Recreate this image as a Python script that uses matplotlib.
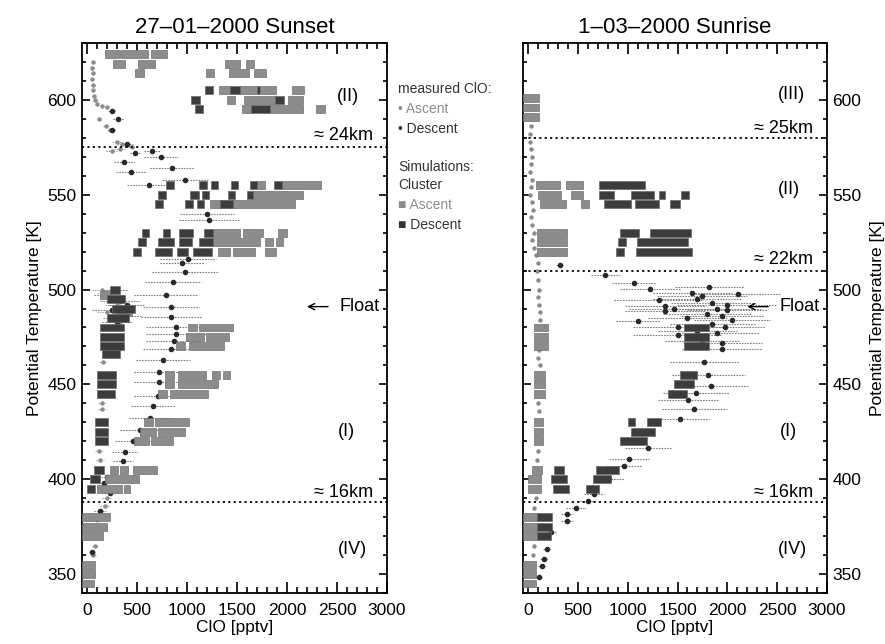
import matplotlib
matplotlib.use("Agg")
import matplotlib.pyplot as plt

plt.rcParams['font.family'] = ['Liberation Sans', 'DejaVu Sans']

# ---- sunset 27-01-2000, measured ClO (theta, ClO, error) ----
ss_desc_theta = [594, 590, 584, 577, 572, 573, 570, 567, 564, 562, 558, 555, 540, 536.5, 516, 514,
                 509.5, 504, 497, 491, 485.6, 480, 476.7, 473, 468.4, 462.8, 456.5, 451, 444, 438.6,
                 432.4, 426, 420.2, 414.4, 409.7, 500, 497, 494, 492, 489, 486, 483, 401, 398,
                 392.6, 383.3, 379, 375, 370, 361.4, 354.4]
ss_desc_clo = [247, 313, 247, 397, 480, 647, 740, 373, 853, 437, 980, 620, 1197, 1220, 1013, 947,
               980, 857, 790, 840, 840, 890, 890, 873, 837, 763, 723, 723, 713, 657,
               630, 530, 463, 380, 363, 280, 220, 330, 400, 250, 380, 300, 200, 170,
               230, 130, 97, 70, 60, 47, 30]
ss_desc_err = [40, 50, 30, 60, 50, 80, 170, 100, 220, 150, 230, 220, 270, 300, 280, 220,
               330, 280, 320, 280, 300, 300, 300, 280, 280, 270, 250, 250, 240, 220,
               210, 200, 180, 130, 100, 120, 150, 200, 180, 200, 160, 150, 60, 60,
               60, 60, 50, 40, 40, 30, 30]

ss_asc_theta = [620, 617, 614, 611, 608, 605, 602, 600, 598, 597, 596, 590, 586, 584, 578, 577,
                576, 575, 574, 573, 500, 498, 495, 492, 490, 488, 485, 483, 481, 462, 440,
                437, 415, 410, 390, 386, 380, 375, 370, 365, 360, 355, 350, 345]
ss_asc_clo = [60, 50, 55, 50, 60, 55, 65, 80, 100, 150, 200, 120, 190, 230, 300, 350,
              400, 450, 330, 250, 150, 200, 250, 300, 350, 200, 280, 330, 250, 160, 150,
              150, 120, 130, 200, 180, 150, 120, 100, 80, 60, 40, 30, 20]
ss_asc_err = [15, 15, 15, 15, 15, 15, 15, 20, 20, 20, 20, 20, 30, 30, 50, 50,
              60, 60, 60, 60, 100, 100, 120, 120, 120, 100, 120, 120, 100, 40, 40,
              40, 40, 40, 50, 50, 50, 40, 40, 30, 30, 20, 20, 20]

# ---- sunset simulations, cluster boxes (theta, ClO low, ClO high) ----
ss_asc_box_theta = [624, 624, 624, 619, 619, 619, 619, 614, 614, 614, 614,
                    605, 605, 605, 605, 600, 600, 600, 595, 595, 595,
                    555, 555, 550, 545, 530, 530, 530, 525, 525, 525, 520, 520, 520,
                    497, 488,
                    480, 480, 475, 475, 470, 470, 455, 455, 455, 455, 450, 450, 445, 445,
                    430, 430, 425, 425, 420, 420, 405, 405, 405, 400, 395, 395,
                    380, 375, 370, 355, 350, 345]
ss_asc_box_lo = [180, 337, 637, 263, 513, 1380, 1590, 480, 1190, 1423, 1670,
                 1323, 1530, 1737, 2047, 1397, 1573, 2013, 1553, 1830, 2290,
                 1697, 1947, 1663, 1230, 1263, 1563, 1913, 1263, 1780, 1890, 1313, 1463, 1780,
                 130, 300,
                 1010, 1123, 990, 1190, 893, 1023, 783, 910, 1250, 1357, 783, 910, 710, 833,
                 573, 677, 527, 710, 467, 643, 227, 327, 457, 183, 100, 367,
                 -50, -50, -50, -50, -50, -50]
ss_asc_box_hi = [330, 613, 797, 380, 680, 1530, 1670, 570, 1273, 1623, 1787,
                 1430, 1697, 1890, 2170, 1480, 1880, 2157, 1637, 2163, 2380,
                 1780, 2340, 2163, 2080, 1530, 1763, 1997, 1730, 1863, 1963, 1430, 1680, 1887,
                 250, 450,
                 1100, 1457, 1167, 1417, 977, 1367, 867, 1190, 1333, 1433, 867, 1310, 800, 1210,
                 657, 1023, 690, 977, 623, 860, 310, 410, 700, 517, 350, 433,
                 230, 197, 163, 80, 80, 70]

ss_desc_box_theta = [605, 605, 605, 600, 600, 595, 595,
                     555, 555, 555, 555, 555, 555, 550, 550, 550, 550, 550,
                     545, 545, 545, 545, 530, 530, 530, 530, 525, 525, 525, 525,
                     520, 520, 520, 520, 500, 495, 490, 485,
                     480, 475, 470, 466, 455, 450, 445, 430, 425, 420, 405, 400, 395]
ss_desc_box_lo = [1180, 1430, 1697, 1040, 1880, 1080, 1637,
                  790, 1123, 1237, 1440, 1630, 1873, 713, 1030, 1147, 1407, 1597,
                  680, 980, 1097, 1330, 547, 763, 920, 1170, 507, 713, 920, 1120,
                  463, 680, 897, 1063, 230, 200, 250, 200,
                  133, 133, 133, 150, 100, 100, 100, 83, 83, 83, 67, 33, 0]
ss_desc_box_hi = [1263, 1530, 1730, 1130, 1970, 1163, 1830,
                  867, 1197, 1313, 1513, 1697, 1947, 787, 1120, 1223, 1480, 1663,
                  763, 1057, 1170, 1463, 620, 830, 1063, 1263, 587, 870, 1047, 1263,
                  537, 847, 1013, 1247, 330, 380, 480, 420,
                  367, 367, 367, 330, 293, 293, 283, 210, 210, 210, 167, 133, 83]

# ---- sunrise 1-03-2000, measured ClO ----
sr_desc_theta = [513.2, 507.9, 503.5, 500.4, 501.4, 496.8, 497.4, 494.7, 492, 489.5, 491.2, 488.6,
                 483.3, 480.4, 480.4, 476.3, 498, 495, 493, 490, 489, 487, 486, 485, 484, 482,
                 478, 477, 473, 472, 468.4, 461.8, 454.7, 449.1, 445.3, 441.6, 436.8, 431.6,
                 416.7, 410.9, 407, 400, 392, 388.6, 385, 381.6, 378, 372, 363.2, 357.9,
                 354.4, 348.3]
sr_desc_clo = [317, 777, 1067, 1220, 1820, 1743, 2110, 1310, 1993, 1460, 1377, 1377,
               1103, 1500, 1977, 1500, 1650, 1700, 1850, 1900, 2000, 1800, 1950, 1600, 2050, 1850,
               1700, 1900, 1750, 1950, 1943, 1770, 1810, 1833, 1687, 1603, 1670, 1520,
               1200, 1010, 967, 810, 660, 603, 477, 393, 387, 227, 187, 160,
               143, 110]
sr_desc_err = [40, 150, 220, 300, 350, 450, 430, 450, 500, 450, 400, 400,
               220, 450, 400, 450, 400, 450, 420, 450, 400, 450, 420, 400, 380, 430,
               400, 420, 380, 400, 400, 350, 370, 370, 330, 300, 330, 300,
               230, 200, 180, 150, 100, 80, 100, 60, 60, 50, 40, 40,
               40, 30]

sr_asc_theta = [590, 586, 582, 578, 574, 570, 566, 562, 558, 554, 550, 546, 542, 538, 534, 530,
                526, 522, 518, 514, 510, 505, 500, 496, 492, 488, 484, 468, 464, 460, 440,
                436, 415, 410, 390, 385, 365, 360, 355, 350]
sr_asc_clo = [40, 30, 20, 20, 30, 40, 30, 20, 40, 30, 20, 40, 50, 30, 40, 60,
              40, 60, 80, 100, 90, 100, 110, 100, 110, 120, 120, 110, 100, 120, 100,
              110, 100, 90, 80, 60, 60, 50, 40, 30]
sr_asc_err = [15] * 40

# ---- sunrise simulations ----
sr_asc_box_theta = [601, 596, 591, 555, 555, 550, 550, 545, 545, 530, 525, 520,
                    480, 475, 470, 455, 450, 445, 430, 425, 420, 405, 400, 395,
                    380, 375, 370, 355, 350, 345]
sr_asc_box_lo = [-50, -50, -50, 77, 383, 100, 433, 120, 527, 93, 93, 93,
                 60, 60, 60, 60, 60, 60, 60, 60, 60, 43, 0, 0,
                 -50, -50, -50, -50, -50, -50]
sr_asc_box_hi = [110, 110, 110, 320, 553, 333, 550, 377, 610, 393, 387, 387,
                 200, 200, 200, 167, 167, 167, 153, 153, 153, 143, 133, 127,
                 93, 93, 93, 77, 77, 77]

sr_desc_box_theta = [555, 550, 550, 550, 550, 545, 545, 545, 530, 530, 525, 525, 520, 520,
                     480, 475, 470, 455, 450, 445, 430, 430, 425, 420,
                     405, 405, 400, 400, 395, 395, 380, 375, 370]
sr_desc_box_lo = [717, 717, 1037, 1310, 1537, 767, 1077, 1427, 927, 1227, 903, 1093, 883, 1087,
                  1560, 1560, 1560, 1520, 1460, 1403, 1000, 1193, 1033, 927,
                  260, 683, 233, 650, 253, 583, 93, 93, 93]
sr_desc_box_hi = [1177, 860, 1260, 1377, 1617, 1033, 1310, 1520, 1110, 1633, 983, 1610, 960, 1643,
                  1820, 1820, 1820, 1693, 1667, 1593, 1077, 1333, 1277, 1193,
                  360, 910, 393, 833, 410, 710, 243, 243, 230]

# region labels: (text, ClO, theta, alignment)
ss_labels = [('(II)', 2610, 602, 'center'), ('≈ 24km', 2860, 581, 'right'),
             ('Float', 2930, 491, 'right'), ('(I)', 2590, 425, 'center'),
             ('≈ 16km', 2860, 393, 'right'), ('(IV)', 2650, 363, 'center')]
sr_labels = [('(III)', 2640, 603, 'center'), ('≈ 25km', 2860, 585, 'right'),
             ('(II)', 2620, 553, 'center'), ('≈ 22km', 2860, 516, 'right'),
             ('Float', 2930, 491, 'right'), ('(I)', 2610, 425, 'center'),
             ('≈ 16km', 2860, 393, 'right'), ('(IV)', 2650, 363, 'center')]
float_arrow_tail = 2410   # ClO at the tail of the "<- Float" arrow
float_arrow_head = 2200
float_arrow_theta = 491
ss_lines = [575, 388]
sr_lines = [580, 510, 388]

light = '#8c8c8c'
dark = '#3c3c3c'

fig = plt.figure(figsize=(8.85, 6.44), dpi=100)
ax1 = fig.add_axes([0.0927, 0.0792, 0.3446, 0.854])
ax2 = fig.add_axes([0.591, 0.0792, 0.3435, 0.854])


def draw_panel(ax, title, a_t, a_c, a_e, d_t, d_c, d_e, ab_t, ab_lo, ab_hi, db_t, db_lo, db_hi,
               labels, lines):
    eb = ax.errorbar(a_c, a_t, xerr=a_e, fmt='o', ms=2.2, color=light, ecolor='#a0a0a0',
                     elinewidth=0.7, capsize=0, zorder=2)
    eb[2][0].set_linestyle((0, (1.5, 1)))
    eb = ax.errorbar(d_c, d_t, xerr=d_e, fmt='o', ms=3, color='#2a2a2a', ecolor='#808080',
                     elinewidth=0.8, capsize=0, zorder=2)
    eb[2][0].set_linestyle((0, (1.5, 1)))
    ax.barh(ab_t, [h - l for l, h in zip(ab_lo, ab_hi)], left=ab_lo, height=4.2,
            color=light, edgecolor='#707070', linewidth=0.5, zorder=3)
    ax.barh(db_t, [h - l for l, h in zip(db_lo, db_hi)], left=db_lo, height=4.2,
            color=dark, edgecolor='#6a6a6a', linewidth=0.5, zorder=3)
    for y in lines:
        ax.axhline(y, color='black', lw=1.3, ls=(0, (1.2, 1.8)), zorder=4)
    for txt, x, y, ha in labels:
        ax.text(x, y, txt, ha=ha, va='center', fontsize=13, zorder=5)
    # long thin arrow in front of "Float"
    ax.annotate('', xy=(float_arrow_head, float_arrow_theta),
                xytext=(float_arrow_tail, float_arrow_theta),
                arrowprops=dict(arrowstyle='->', lw=1.0, color='black',
                                shrinkA=0, shrinkB=0, mutation_scale=11), zorder=5)
    ax.set_xlim(-50, 3000)
    ax.set_ylim(340, 630)
    ax.set_xticks(range(0, 3001, 500))
    ax.set_xticks(range(0, 3001, 100), minor=True)
    ax.set_yticks(range(350, 601, 50))
    ax.set_yticks(range(340, 631, 10), minor=True)
    ax.tick_params(axis='both', which='both', direction='in', top=True, right=True,
                   labelsize=12.5, width=1.2)
    ax.tick_params(axis='x', which='major', length=8, pad=7)
    ax.tick_params(axis='x', which='minor', length=4)
    ax.tick_params(axis='y', which='major', length=6, pad=4)
    ax.tick_params(axis='y', which='minor', length=3)
    for s in ax.spines.values():
        s.set_linewidth(1.3)
    ax.set_title(title, fontsize=16, pad=7)
    ax.set_xlabel('ClO [pptv]', fontsize=12.5, labelpad=2)


draw_panel(ax1, '27–01–2000 Sunset', ss_asc_theta, ss_asc_clo, ss_asc_err,
           ss_desc_theta, ss_desc_clo, ss_desc_err,
           ss_asc_box_theta, ss_asc_box_lo, ss_asc_box_hi,
           ss_desc_box_theta, ss_desc_box_lo, ss_desc_box_hi, ss_labels, ss_lines)
draw_panel(ax2, '1–03–2000 Sunrise', sr_asc_theta, sr_asc_clo, sr_asc_err,
           sr_desc_theta, sr_desc_clo, sr_desc_err,
           sr_asc_box_theta, sr_asc_box_lo, sr_asc_box_hi,
           sr_desc_box_theta, sr_desc_box_lo, sr_desc_box_hi, sr_labels, sr_lines)

ax1.set_ylabel('Potential Temperature [K]', fontsize=12.5, labelpad=4)
ax2.tick_params(axis='y', labelleft=False, labelright=True)
ax2.yaxis.set_label_position('right')
ax2.set_ylabel('Potential Temperature [K]', fontsize=12.5, labelpad=6)

# legend between the panels
lx = 0.450
fig.text(lx, 0.855, 'measured ClO:', fontsize=10, color='#333333')
fig.text(lx, 0.824, '• Ascent', fontsize=10, color='#8c8c8c')
fig.text(lx, 0.793, '• Descent', fontsize=10, color='#333333')
fig.text(lx, 0.735, 'Simulations:', fontsize=10, color='#333333')
fig.text(lx, 0.707, 'Cluster', fontsize=10, color='#333333')
fig.text(lx, 0.676, '■ Ascent', fontsize=10, color='#8c8c8c')
fig.text(lx, 0.645, '■ Descent', fontsize=10, color='#333333')

fig.savefig('out.png', dpi=100)
